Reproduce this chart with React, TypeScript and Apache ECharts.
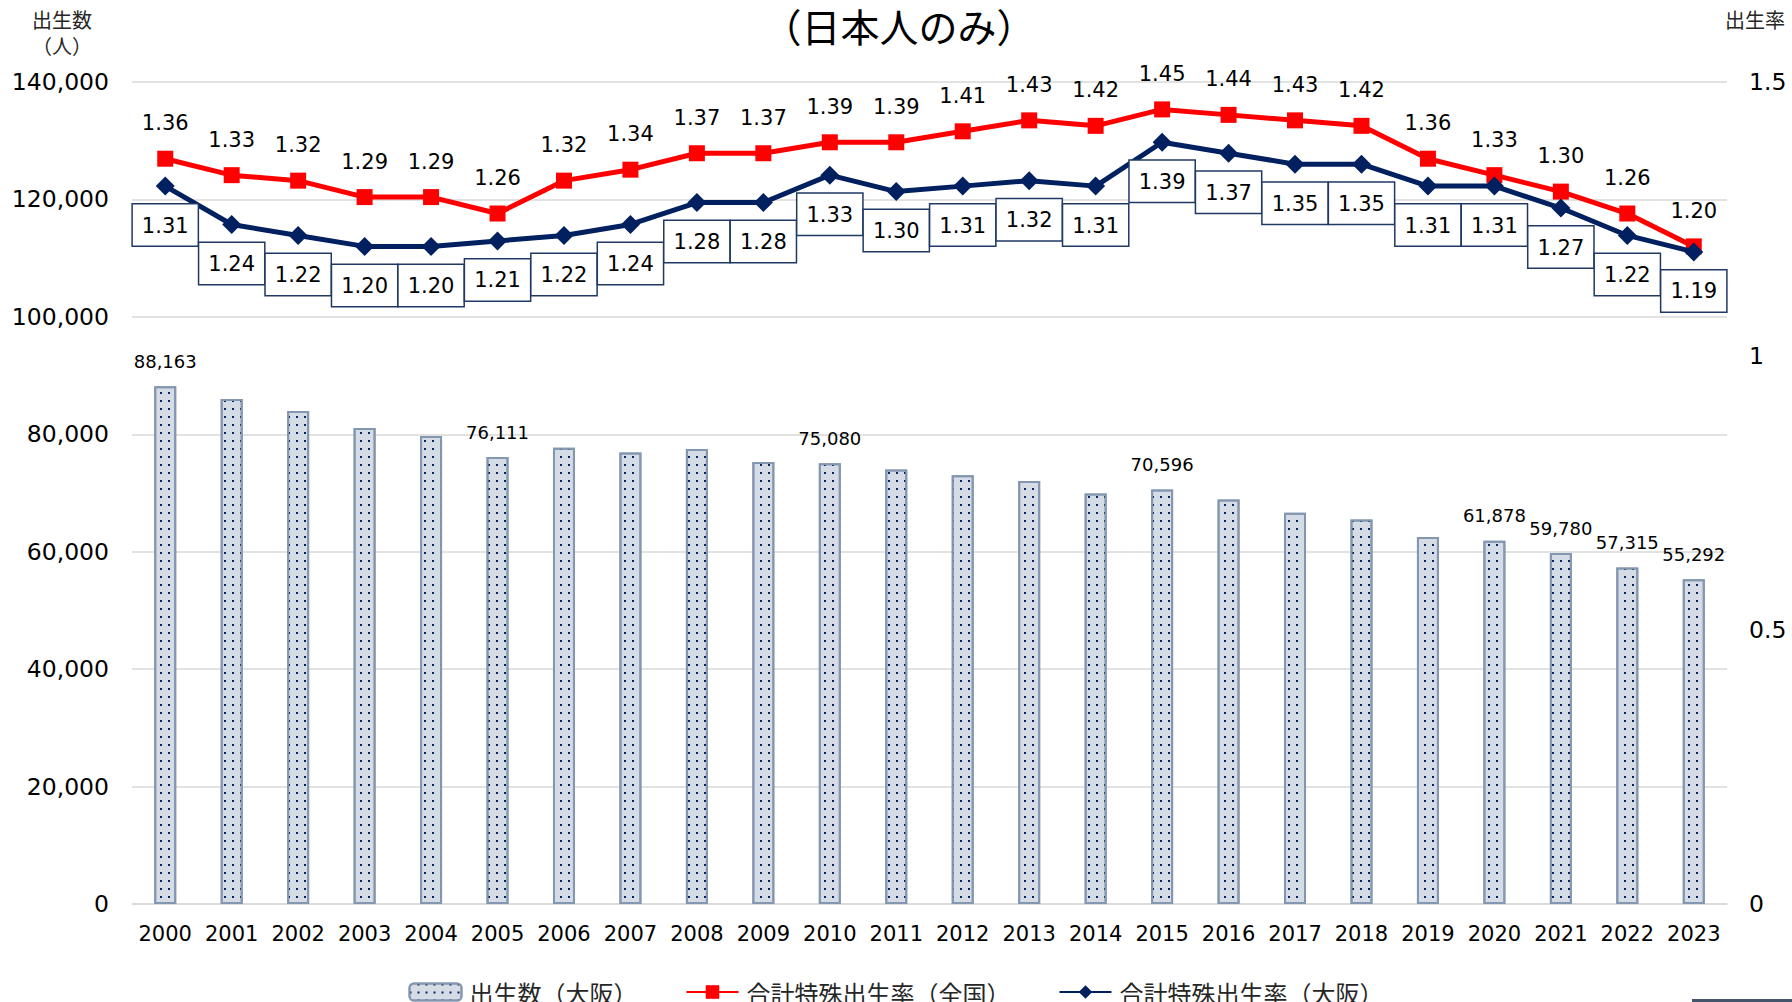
import React, { useEffect, useRef } from "react";
import * as echarts from "echarts";

const years = [
  "2000", "2001", "2002", "2003", "2004", "2005", "2006", "2007", "2008", "2009", "2010", "2011",
  "2012", "2013", "2014", "2015", "2016", "2017", "2018", "2019", "2020", "2021", "2022", "2023",
];
const births = [
  88163, 86000, 83970, 81070, 79700, 76111, 77690, 76910, 77500, 75300, 75080, 73990,
  73020, 72050, 69900, 70596, 68900, 66650, 65480, 62500, 61878, 59780, 57315, 55292,
];
const tfrNational = [
  1.36, 1.33, 1.32, 1.29, 1.29, 1.26, 1.32, 1.34, 1.37, 1.37, 1.39, 1.39,
  1.41, 1.43, 1.42, 1.45, 1.44, 1.43, 1.42, 1.36, 1.33, 1.30, 1.26, 1.20,
];
const tfrOsaka = [
  1.31, 1.24, 1.22, 1.20, 1.20, 1.21, 1.22, 1.24, 1.28, 1.28, 1.33, 1.30,
  1.31, 1.32, 1.31, 1.39, 1.37, 1.35, 1.35, 1.31, 1.31, 1.27, 1.22, 1.19,
];
const labeledBarYears = ["2000", "2005", "2010", "2015", "2020", "2021", "2022", "2023"];
const leftAxis = { min: 0, max: 140000, interval: 20000 };
const rightAxis = { min: 0, max: 1.5, interval: 0.5 };
const seriesNames = ["出生数（大阪）", "合計特殊出生率（全国）", "合計特殊出生率（大阪）"];
const titleText = "（日本人のみ）";
const leftAxisNameLines = ["出生数", "（人）"];
const rightAxisName = "出生率";

const NUM_FONT = "'DejaVu Sans', 'Noto Sans CJK JP', sans-serif";
const CJK_FONT = "'Noto Sans CJK JP', 'DejaVu Sans', sans-serif";

export default function App() {
  const ref = useRef<HTMLDivElement>(null);

  useEffect(() => {
    if (!ref.current) return;
    const chart = echarts.init(ref.current, undefined, { renderer: "svg" });

    const barData = births.map((v, i) => ({
      value: v,
      label: { show: labeledBarYears.includes(years[i]) },
    }));

    chart.setOption({
      animation: false,
      backgroundColor: "#ffffff",
      grid: { left: 132, right: 65, top: 82, bottom: 98, containLabel: false },
      graphic: [
        {
          type: "text",
          x: 899,
          y: 25,
          style: {
            text: titleText,
            fontSize: 39,
            fontFamily: CJK_FONT,
            fill: "#000000",
            align: "center",
            verticalAlign: "middle",
          },
        },
        {
          type: "text",
          x: 62,
          y: 19,
          style: {
            text: leftAxisNameLines[0],
            fontSize: 20,
            fontFamily: CJK_FONT,
            fill: "#262626",
            align: "center",
            verticalAlign: "middle",
          },
        },
        {
          type: "text",
          x: 62,
          y: 45,
          style: {
            text: leftAxisNameLines[1],
            fontSize: 20,
            fontFamily: CJK_FONT,
            fill: "#262626",
            align: "center",
            verticalAlign: "middle",
          },
        },
        {
          type: "text",
          x: 1755,
          y: 19,
          style: {
            text: rightAxisName,
            fontSize: 20,
            fontFamily: CJK_FONT,
            fill: "#262626",
            align: "center",
            verticalAlign: "middle",
          },
        },
        {
          type: "rect",
          left: 1692,
          top: 999,
          shape: { width: 100, height: 3 },
          style: { fill: "#44546A" },
        },
      ],
      legend: {
        left: "center",
        top: 975,
        itemWidth: 52,
        itemHeight: 17,
        itemGap: 48,
        textStyle: { fontSize: 24, fontFamily: CJK_FONT, color: "#262626", lineHeight: 24, padding: [0, 0, 0, 3] },
        data: seriesNames,
      },
      xAxis: {
        type: "category",
        data: years,
        boundaryGap: true,
        axisLine: { show: true, lineStyle: { color: "#d9d9d9", width: 1.5 } },
        axisTick: { show: false },
        axisLabel: { interval: 0, fontSize: 21, fontFamily: NUM_FONT, color: "#000000", margin: 19 },
      },
      yAxis: [
        {
          type: "value",
          min: leftAxis.min,
          max: leftAxis.max,
          interval: leftAxis.interval,
          axisLine: { show: false },
          axisTick: { show: false },
          splitLine: { show: true, lineStyle: { color: "#d9d9d9", width: 1.5 } },
          axisLabel: {
            fontSize: 23.5,
            fontFamily: NUM_FONT,
            color: "#000000",
            margin: 23,
            formatter: (v: number) => v.toLocaleString("en-US"),
          },
        },
        {
          type: "value",
          min: rightAxis.min,
          max: rightAxis.max,
          interval: rightAxis.interval,
          axisLine: { show: false },
          axisTick: { show: false },
          splitLine: { show: false },
          axisLabel: {
            fontSize: 23.5,
            fontFamily: NUM_FONT,
            color: "#000000",
            margin: 22,
            formatter: (v: number) => String(v),
          },
        },
      ],
      series: [
        {
          name: seriesNames[0],
          type: "bar",
          yAxisIndex: 0,
          barWidth: 22,
          data: barData,
          itemStyle: {
            color: "#D6DCE5",
            borderColor: "#8497B0",
            borderWidth: 2,
            decal: {
              symbol: "rect",
              symbolSize: 1,
              color: "#002060",
              dashArrayX: [2, 6],
              dashArrayY: [2, 6],
              rotation: 0,
            },
          },
          label: {
            show: false,
            position: "top",
            distance: 16,
            fontSize: 18,
            fontFamily: NUM_FONT,
            color: "#000000",
            formatter: (p: any) => Number(p.value).toLocaleString("en-US"),
          },
          z: 1,
        },
        {
          name: seriesNames[1],
          type: "line",
          yAxisIndex: 1,
          data: tfrNational,
          symbol: "rect",
          symbolSize: 16,
          lineStyle: { color: "#FF0000", width: 5 },
          itemStyle: { color: "#FF0000" },
          label: {
            show: true,
            position: "top",
            distance: 17,
            fontSize: 21,
            fontFamily: NUM_FONT,
            color: "#000000",
            formatter: (p: any) => Number(p.value).toFixed(2),
          },
          z: 3,
        },
        {
          name: seriesNames[2],
          type: "line",
          yAxisIndex: 1,
          data: tfrOsaka,
          symbol: "diamond",
          symbolSize: 19,
          lineStyle: { color: "#002060", width: 5 },
          itemStyle: { color: "#002060" },
          label: {
            show: true,
            position: "bottom",
            distance: 9,
            fontSize: 21,
            lineHeight: 22,
            fontFamily: NUM_FONT,
            color: "#000000",
            backgroundColor: "#ffffff",
            borderColor: "#1F3864",
            borderWidth: 1.5,
            padding: [10, 9, 9, 9],
            formatter: (p: any) => Number(p.value).toFixed(2),
          },
          z: 4,
        },
      ],
    });

    return () => chart.dispose();
  }, []);

  return (
    <div
      ref={ref}
      style={{ position: "fixed", left: 0, top: 0, width: 1792, height: 1002, background: "#fff" }}
    />
  );
}
